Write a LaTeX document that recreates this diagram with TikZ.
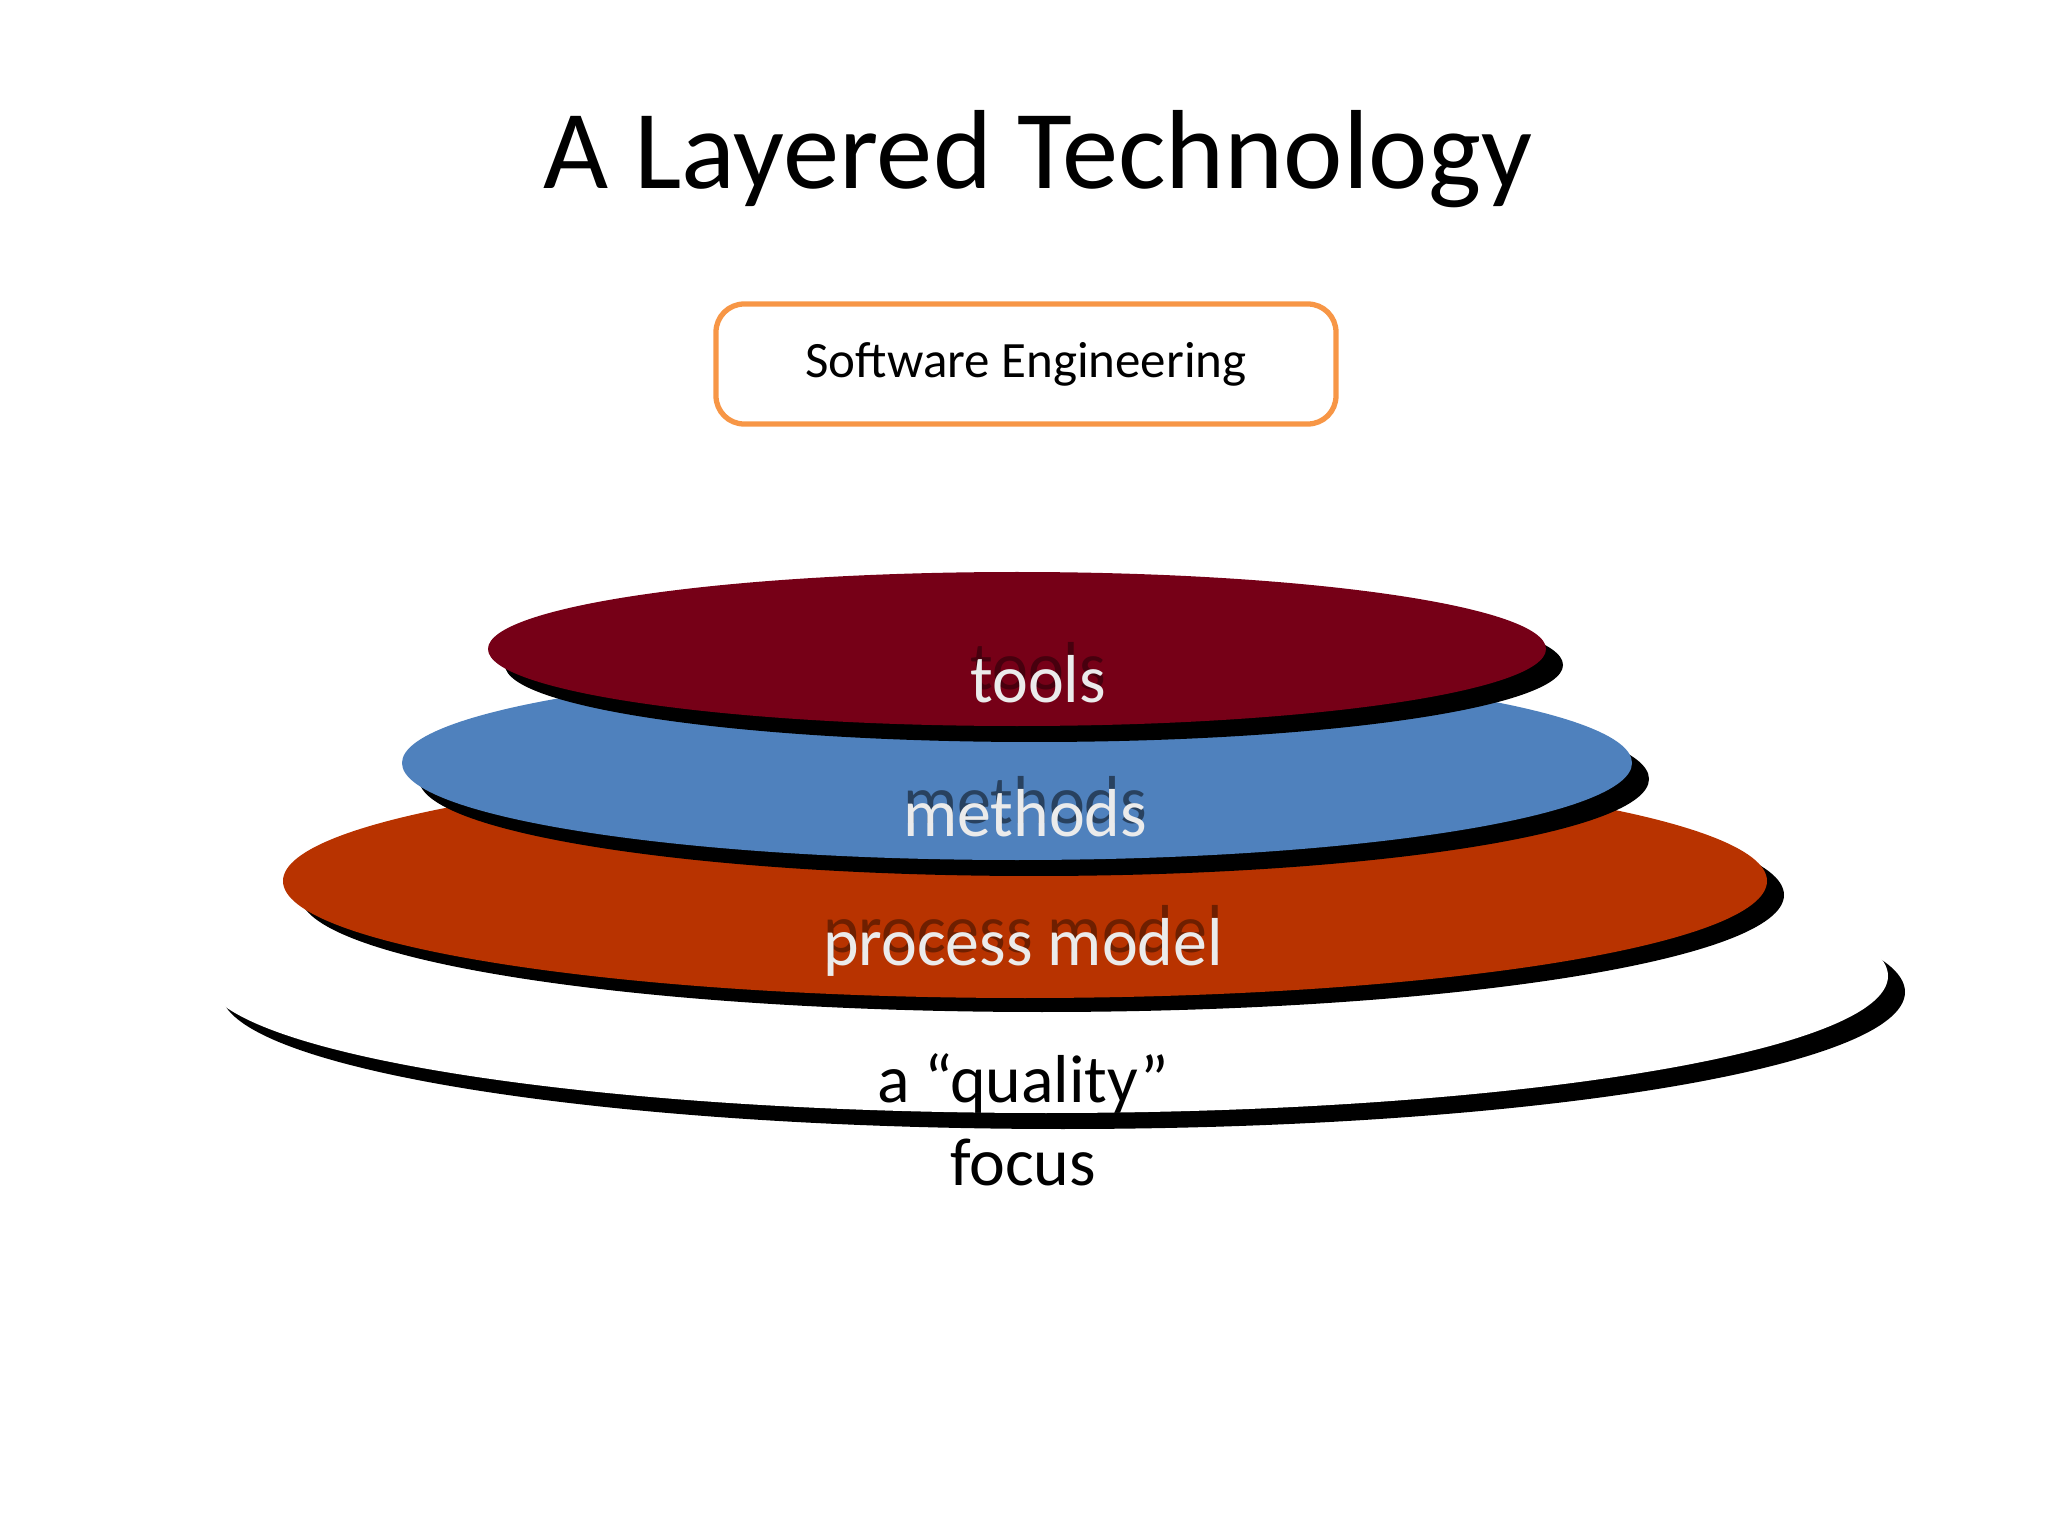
\documentclass[tikz,border=0pt]{standalone}
\usepackage{fontspec}
\setmainfont{Carlito}
\definecolor{toolsc}{HTML}{760017}
\definecolor{methc}{HTML}{4F81BD}
\definecolor{procc}{HTML}{B83300}
\definecolor{boxc}{HTML}{F79646}
\tikzset{layer/.style={font=\fontsize{19.3}{22}\selectfont,text=white!92!black},
ghost/.style={font=\fontsize{19.3}{22}\selectfont}}
\begin{document}
\begin{tikzpicture}
\useasboundingbox (0,0) rectangle (20.48,-15.36);
\node (title) at (10.38,-1.59) {\fontsize{32}{38}\selectfont A Layered Technology};
\node[draw=boxc,line width=1.5pt,rounded corners=8pt,minimum width=6.2cm,minimum height=1.2cm,font=\fontsize{14.5}{17}\selectfont] (se) at (10.26,-3.64) {Software Engineering};
% quality
\fill[black] (10.63,-9.92) ellipse [x radius=8.42,y radius=1.37];
\fill[white] (10.46,-9.76) ellipse [x radius=8.42,y radius=1.37];
% process
\fill[black] (10.42,-8.95) ellipse [x radius=7.42,y radius=1.17];
\fill[procc] (10.25,-8.81) ellipse [x radius=7.42,y radius=1.17];
% methods
\fill[black] (10.34,-7.79) ellipse [x radius=6.15,y radius=0.97];
\fill[methc] (10.17,-7.63) ellipse [x radius=6.15,y radius=0.97];
% tools
\fill[black] (10.34,-6.65) ellipse [x radius=5.29,y radius=0.77];
\fill[toolsc] (10.17,-6.49) ellipse [x radius=5.29,y radius=0.77];
\node[ghost,text=toolsc!60!black] at (10.38,-6.66) {tools};
\node[layer] (tools) at (10.38,-6.79) {tools};
\node[ghost,text=methc!50!black] at (10.25,-8.0) {methods};
\node[layer] (methods) at (10.25,-8.13) {methods};
\node[ghost,text=procc!60!black] at (10.23,-9.34) {process model};
\node[layer] (process) at (10.23,-9.47) {process model};
\node[ghost] (quality) at (10.23,-10.84) {a “quality”};
\node[ghost] (focus) at (10.23,-11.62) {focus};
\end{tikzpicture}
\end{document}
